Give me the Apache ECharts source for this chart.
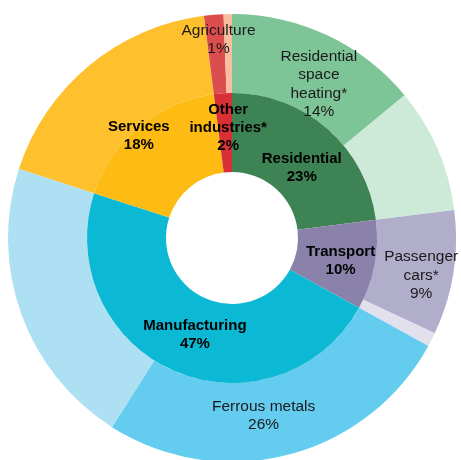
<!DOCTYPE html>
<html lang="en">

<head>
    <meta charset="UTF-8">
    <title>Energy use by sector</title>
    <style>
        html, body { margin: 0; padding: 0; background: #fff; }
        #chart { width: 461px; height: 460px; }
    </style>
</head>

<body>
    <div id="chart"></div>
</body>
<script src="https://cdn.jsdelivr.net/npm/echarts@6/dist/echarts.min.js"></script>
<script>
    // inner ring: sectors
    let sectorNames = ['Residential', 'Transport', 'Manufacturing', 'Services', 'Other industries*'];
    let sectorValues = [23, 10, 47, 18, 2];
    let sectorLabels = ['23%', '10%', '47%', '18%', '2%'];

    // outer ring: breakdown
    let subNames = ['Residential space heating*', 'Residential other', 'Passenger cars*', 'Transport other',
        'Ferrous metals', 'Manufacturing other', 'Services', 'Other industries', 'Agriculture'];
    let subValues = [14, 9, 9, 1, 26, 21, 18, 1.4, 0.6];
    let subLabels = ['Residential\nspace\nheating*\n14%', '', 'Passenger\ncars*\n9%', '',
        'Ferrous metals\n26%', '', '', '', 'Agriculture\n1%'];

    let innerColors = ['#3e8354', '#8a82aa', '#0cb9d4', '#fdbb14', '#d93036'];
    let outerColors = ['#7dc497', '#cde9d8', '#b1aecb', '#e2e0ec', '#63ccef', '#aee0f4', '#fec02c', '#dc4d4d', '#f9bda0'];

    // label nudges from the default inside spot
    let innerOffsets = [[-2, 11], [2, 3], [6, -3], [-24, -19], [3, -2]];
    let outerOffsets = [[7, 16], [0, 0], [4, 8], [0, 0], [-15, -4], [0, 0], [0, 0], [0, 0], [-10, -11]];

    let innerData = sectorNames.map((n, i) => ({
        name: n,
        value: sectorValues[i],
        itemStyle: { color: innerColors[i] },
        label: {
            formatter: n.replace('Other industries*', 'Other\nindustries*') + '\n' + sectorLabels[i],
            offset: innerOffsets[i]
        }
    }));

    let outerData = subNames.map((n, i) => ({
        name: n,
        value: subValues[i],
        itemStyle: { color: outerColors[i] },
        label: {
            show: subLabels[i] !== '',
            formatter: subLabels[i],
            offset: outerOffsets[i]
        }
    }));

    var myChart = echarts.init(document.getElementById('chart'));

    myChart.setOption({
        animation: false,
        series: [{
            type: 'pie',
            center: [232, 238],
            radius: [145, 224],
            startAngle: 90,
            clockwise: true,
            avoidLabelOverlap: false,
            minShowLabelAngle: 0,
            itemStyle: { borderWidth: 0 },
            label: {
                position: 'inside',
                overflow: 'none',
                color: '#1a1a1a',
                fontFamily: 'Liberation Sans, Arial',
                fontSize: 15.5,
                lineHeight: 18.5
            },
            labelLayout: { hideOverlap: false },
            labelLine: { show: false },
            emphasis: { disabled: true },
            data: outerData
        }, {
            type: 'pie',
            center: [232, 238],
            radius: [66, 145],
            startAngle: 90,
            clockwise: true,
            avoidLabelOverlap: false,
            minShowLabelAngle: 0,
            itemStyle: { borderWidth: 0 },
            label: {
                position: 'inside',
                overflow: 'none',
                color: '#000',
                fontFamily: 'Liberation Sans, Arial',
                fontWeight: 'bold',
                fontSize: 15,
                lineHeight: 18
            },
            labelLayout: { hideOverlap: false },
            labelLine: { show: false },
            emphasis: { disabled: true },
            data: innerData
        }]
    });
</script>

</html>
